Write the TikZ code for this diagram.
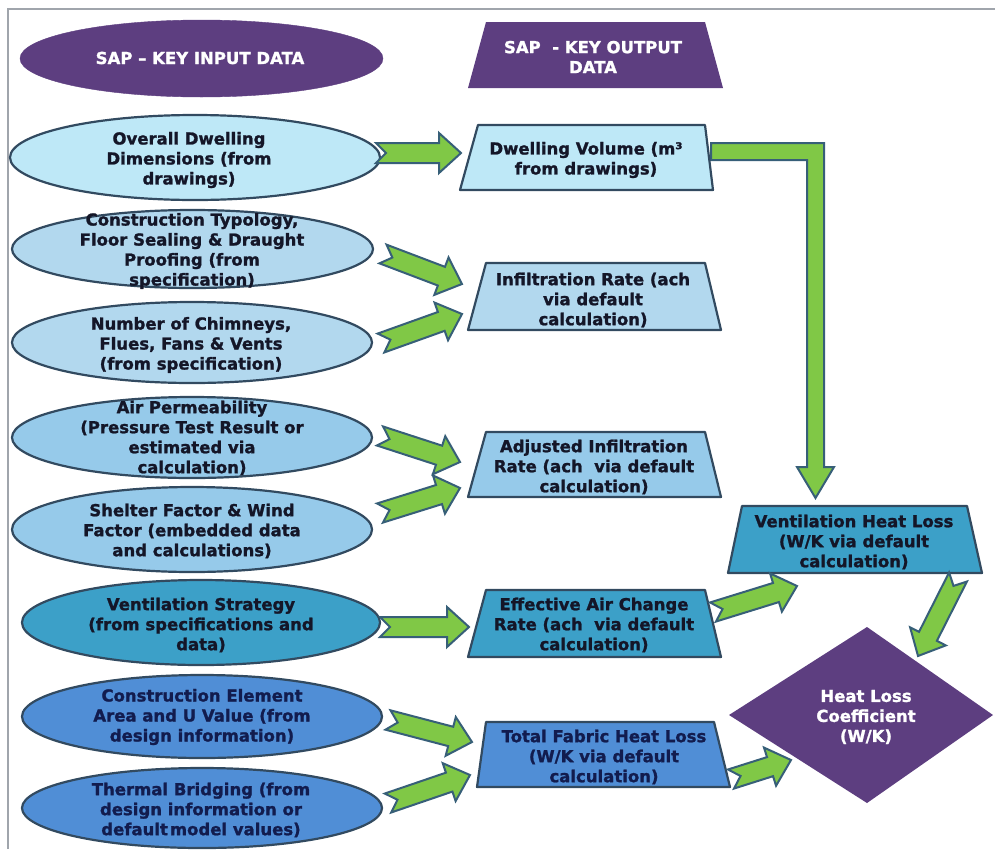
\documentclass[tikz,border=0pt]{standalone}
\usepackage{fontspec}
\setmainfont{DejaVu Sans}[BoldFeatures={FakeBold=1.3}]
\usetikzlibrary{calc}
\definecolor{purp}{RGB}{93,62,128}
\definecolor{cA}{RGB}{190,232,247}
\definecolor{cB}{RGB}{178,216,238}
\definecolor{cC}{RGB}{150,202,234}
\definecolor{cD}{RGB}{60,160,200}
\definecolor{cE}{RGB}{80,142,214}
\definecolor{edgec}{RGB}{50,74,96}
\definecolor{grn}{RGB}{128,200,70}
\definecolor{gedge}{RGB}{55,95,120}
\definecolor{txt}{RGB}{20,22,40}
\definecolor{txtb}{RGB}{18,28,78}
\definecolor{framec}{RGB}{160,165,172}
\tikzset{
 shp/.style={draw=edgec, line width=2.2pt, line join=round},
 lbl/.style={font=\fontsize{16.5}{20}\selectfont\bfseries, align=center, text=txt, inner sep=0pt},
 wlbl/.style={lbl, text=white},
 blbl/.style={lbl, text=txtb},
 garrow/.style={fill=grn, draw=gedge, line width=2pt, line join=miter},
}
\newcommand\greenarrow[2]{%
  \pgfpointdiff{\pgfpointanchor{#1}{center}}{\pgfpointanchor{#2}{center}}%
  \pgfgetlastxy{\gax}{\gay}%
  \pgfmathsetmacro\gaang{atan2(\gay,\gax)}%
  \pgfmathsetmacro\galen{veclen(\gax,\gay)}%
  \pgfmathsetmacro\gab{\galen-22}%
  \draw[garrow, shift={(#1)}, rotate=\gaang] (0pt,10pt) -- (\gab pt,10pt) -- (\gab pt,20pt) -- (\galen pt,0pt) -- (\gab pt,-20pt) -- (\gab pt,-10pt) -- (0pt,-10pt) -- (10pt,0pt) -- cycle;}
\begin{document}
\begin{tikzpicture}[x=1pt,y=-1pt]
\useasboundingbox (0,0) rectangle (995,849);
\fill[white] (0,0) rectangle (995,849);
% frame
\draw[framec, line width=2.5pt] (8,849) -- (8,9) -- (995,9);

% ---- input ellipses ----
\draw[fill=purp, draw=purp] (201.5,58.5) ellipse [x radius=181.5, y radius=38.5];
\node[wlbl] (tin) at (200,58) {SAP – KEY INPUT DATA};

\draw[shp, fill=cA] (195,157.5) ellipse [x radius=185, y radius=42.5];
\node[lbl] (e1) at (189,160) {Overall Dwelling\\Dimensions (from\\drawings)};

\draw[shp, fill=cB] (192.5,249) ellipse [x radius=180.5, y radius=39];
\node[lbl] (e2) at (192,251) {Construction Typology,\\Floor Sealing \& Draught\\Proofing (from\\specification)};

\draw[shp, fill=cB] (192,342.5) ellipse [x radius=180, y radius=40.5];
\node[lbl] (e3) at (191,345) {Number of Chimneys,\\Flues, Fans \& Vents\\(from specification)};

\draw[shp, fill=cC] (192,437.5) ellipse [x radius=180, y radius=40.5];
\node[lbl] (e4) at (192,438) {Air Permeability\\(Pressure Test Result or\\estimated via\\calculation)};

\draw[shp, fill=cC] (192,529.5) ellipse [x radius=180, y radius=42.5];
\node[lbl] (e5) at (192,531) {Shelter Factor \& Wind\\Factor (embedded data\\and calculations)};

\draw[shp, fill=cD] (201,622.5) ellipse [x radius=179, y radius=42.5];
\node[lbl] (e6) at (201,625) {Ventilation Strategy\\(from specifications and\\data)};

\draw[shp, fill=cE] (202,716.5) ellipse [x radius=180, y radius=41.5];
\node[blbl] (e7) at (202,717) {Construction Element\\Area and U Value (from\\design information)};

\draw[shp, fill=cE] (202,808) ellipse [x radius=180, y radius=40];
\node[blbl] (e8) at (201,810) {Thermal Bridging (from\\design information or\\default\hspace{2pt}model values)};

% ---- big L arrow (dwelling volume -> ventilation heat loss) ----
\coordinate (lstart) at (711,151.5);
\coordinate (lend) at (815.5,498);
\draw[garrow] (711,143) -- (824,143) -- (824,467) -- (834,467) -- (lend) -- (797,467) -- (807,467) -- (807,160) -- (711,160) -- cycle;

% ---- output boxes ----
\fill[purp] (486,22) -- (705,22) -- (723,88) -- (468,88) -- cycle;
\node[wlbl] (tout) at (593,57) {SAP\ \ - KEY OUTPUT\\DATA};

\draw[shp, fill=cA] (478,125) -- (705,125) -- (713,190) -- (460,190) -- cycle;
\node[lbl] (dv) at (586,160) {Dwelling Volume (m³\\from drawings)};

\draw[shp, fill=cB] (486,263) -- (705,263) -- (721,330) -- (468,330) -- cycle;
\node[lbl] (inf) at (593,300) {Infiltration Rate (ach\\via default\\calculation)};

\draw[shp, fill=cC] (486,432) -- (705,432) -- (721,497) -- (468,497) -- cycle;
\node[lbl] (adj) at (594,467) {Adjusted Infiltration\\Rate (ach\ \ via default\\calculation)};

\draw[shp, fill=cD] (486,590) -- (705,590) -- (721,657) -- (468,657) -- cycle;
\node[lbl] (eff) at (594,625) {Effective Air Change\\Rate (ach\ \ via default\\calculation)};

\draw[shp, fill=cE] (486,722) -- (714,722) -- (730,787) -- (477,787) -- cycle;
\node[blbl] (tf) at (604,757) {Total Fabric Heat Loss\\(W/K via default\\calculation)};

\draw[shp, fill=cD] (742,506) -- (967,506) -- (982,573) -- (728,573) -- cycle;
\node[lbl] (vent) at (854,542) {Ventilation Heat Loss\\(W/K via default\\calculation)};

\fill[purp] (729,715) -- (867,627) -- (993,715) -- (867,803) -- cycle;
\node[wlbl] (hlc) at (866,717) {Heat Loss\\Coefficient\\(W/K)};

% ---- green block arrows ----
\coordinate (a1s) at (376,153);  \coordinate (a1e) at (461,153);
\coordinate (a2s) at (383,254);  \coordinate (a2e) at (462,284);
\coordinate (a3s) at (381,343);  \coordinate (a3e) at (462,314);
\coordinate (a4s) at (380,436);  \coordinate (a4e) at (460,462);
\coordinate (a5s) at (380,513);  \coordinate (a5e) at (460,488);
\coordinate (a6s) at (380,627);  \coordinate (a6e) at (469,627);
\coordinate (a7s) at (388,720);  \coordinate (a7e) at (472,742);
\coordinate (a8s) at (388,803);  \coordinate (a8e) at (470,775);
\coordinate (a9s) at (713,612);  \coordinate (a9e) at (797,586);
\coordinate (a10s) at (958,577); \coordinate (a10e) at (918,656);
\coordinate (a11s) at (731,779); \coordinate (a11e) at (791,760);
\greenarrow{a1s}{a1e}
\greenarrow{a2s}{a2e}
\greenarrow{a3s}{a3e}
\greenarrow{a4s}{a4e}
\greenarrow{a5s}{a5e}
\greenarrow{a6s}{a6e}
\greenarrow{a7s}{a7e}
\greenarrow{a8s}{a8e}
\greenarrow{a9s}{a9e}
\greenarrow{a10s}{a10e}
\greenarrow{a11s}{a11e}
\end{tikzpicture}
\end{document}
